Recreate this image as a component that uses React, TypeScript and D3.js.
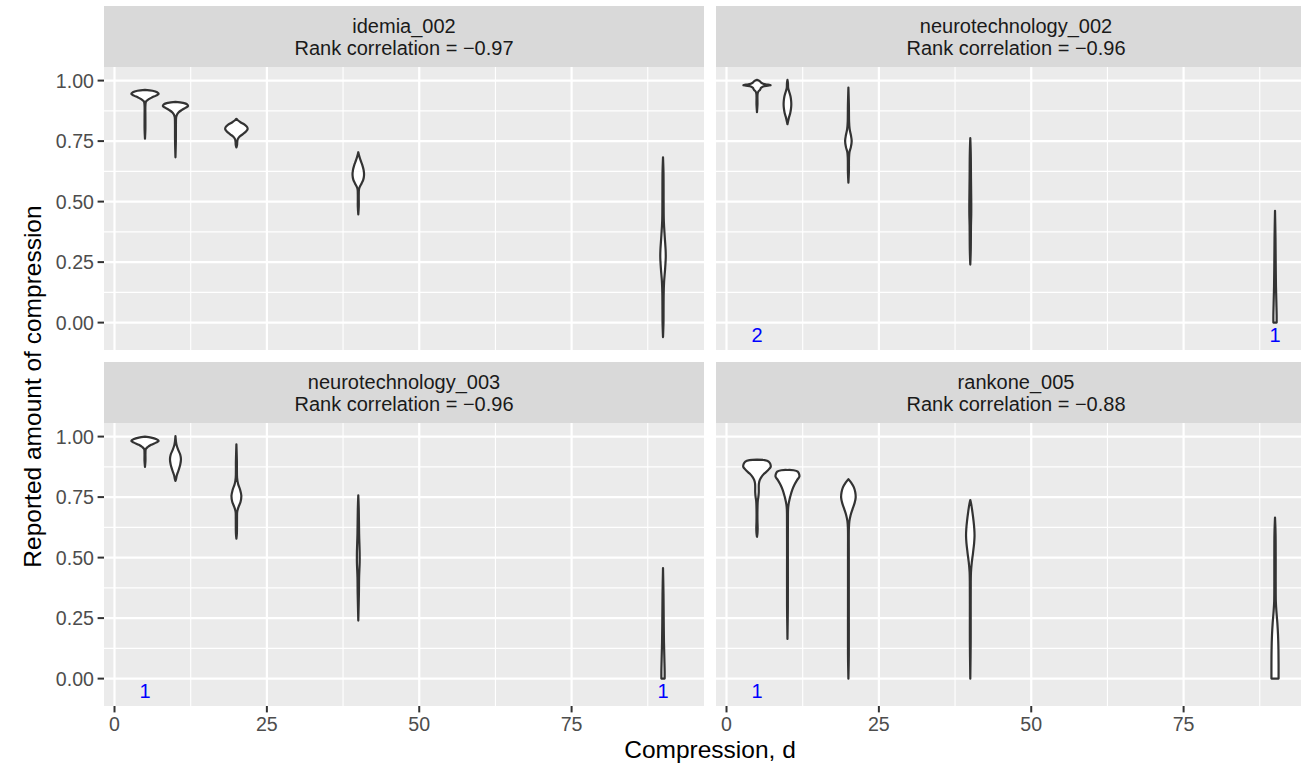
import React from 'react';
import * as d3 from 'd3';

const panelNames = ['idemia_002', 'neurotechnology_002', 'neurotechnology_003', 'rankone_005'];
const rankCorrelations = [-0.97, -0.96, -0.96, -0.88];
const compressionLevels = [5, 10, 20, 40, 90];

// violin outlines, one per compression level: [reported value, relative density], top to bottom
const idemia002: [number, number][][] = [
  [[0.962, 0], [0.958, 0.55], [0.952, 0.88], [0.945, 1.0], [0.938, 0.8], [0.93, 0.5], [0.922, 0.25], [0.914, 0.08], [0.9, 0.035], [0.85, 0.03], [0.8, 0.03], [0.76, 0]],
  [[0.912, 0], [0.908, 0.55], [0.902, 0.85], [0.895, 0.92], [0.888, 0.75], [0.878, 0.45], [0.868, 0.22], [0.858, 0.1], [0.848, 0.05], [0.82, 0.035], [0.75, 0.03], [0.683, 0]],
  [[0.842, 0], [0.836, 0.1], [0.828, 0.3], [0.818, 0.6], [0.808, 0.78], [0.8, 0.82], [0.79, 0.7], [0.778, 0.45], [0.768, 0.22], [0.758, 0.1], [0.745, 0.06], [0.735, 0.05], [0.724, 0]],
  [[0.704, 0], [0.69, 0.06], [0.67, 0.17], [0.65, 0.3], [0.63, 0.39], [0.61, 0.42], [0.59, 0.36], [0.575, 0.24], [0.56, 0.1], [0.55, 0.05], [0.52, 0.035], [0.48, 0.035], [0.447, 0]],
  [[0.683, 0], [0.62, 0.035], [0.5, 0.045], [0.42, 0.06], [0.36, 0.12], [0.3, 0.19], [0.27, 0.2], [0.22, 0.15], [0.17, 0.08], [0.12, 0.05], [0.05, 0.04], [0, 0.035], [-0.06, 0]],
];

const neurotechnology002: [number, number][][] = [
  [[1.003, 0], [0.998, 0.2], [0.992, 0.3], [0.987, 0.45], [0.983, 0.8], [0.981, 1.0], [0.979, 0.8], [0.976, 0.45], [0.97, 0.3], [0.962, 0.22], [0.955, 0.1], [0.945, 0.045], [0.9, 0.035], [0.87, 0]],
  [[1.003, 0], [0.99, 0.035], [0.97, 0.05], [0.955, 0.12], [0.935, 0.22], [0.915, 0.27], [0.9, 0.28], [0.885, 0.26], [0.865, 0.2], [0.85, 0.12], [0.835, 0.06], [0.82, 0]],
  [[0.971, 0], [0.9, 0.035], [0.83, 0.05], [0.8, 0.09], [0.775, 0.18], [0.75, 0.24], [0.725, 0.18], [0.705, 0.08], [0.68, 0.045], [0.62, 0.035], [0.578, 0]],
  [[0.762, 0], [0.7, 0.035], [0.6, 0.05], [0.5, 0.07], [0.45, 0.07], [0.4, 0.05], [0.3, 0.035], [0.24, 0]],
  [[0.462, 0], [0.35, 0.035], [0.25, 0.05], [0.15, 0.07], [0.08, 0.1], [0.03, 0.12], [0, 0.12]],
];

const neurotechnology003: [number, number][][] = [
  [[1.0, 0], [0.996, 0.45], [0.99, 0.8], [0.982, 1.0], [0.975, 0.8], [0.966, 0.45], [0.957, 0.2], [0.948, 0.06], [0.93, 0.035], [0.9, 0.035], [0.875, 0]],
  [[1.002, 0], [0.98, 0.035], [0.965, 0.08], [0.945, 0.2], [0.925, 0.35], [0.906, 0.4], [0.885, 0.35], [0.86, 0.22], [0.84, 0.1], [0.825, 0.045], [0.817, 0]],
  [[0.968, 0], [0.9, 0.035], [0.83, 0.05], [0.805, 0.12], [0.78, 0.27], [0.755, 0.36], [0.73, 0.3], [0.71, 0.16], [0.69, 0.06], [0.66, 0.045], [0.6, 0.035], [0.578, 0]],
  [[0.757, 0], [0.7, 0.035], [0.6, 0.06], [0.52, 0.1], [0.48, 0.1], [0.42, 0.06], [0.35, 0.045], [0.24, 0]],
  [[0.457, 0], [0.35, 0.035], [0.25, 0.05], [0.15, 0.07], [0.08, 0.1], [0.03, 0.12], [0, 0.12]],
];

const rankone005: [number, number][][] = [
  [[0.905, 0], [0.903, 0.55], [0.897, 0.85], [0.887, 0.97], [0.875, 1.0], [0.862, 0.82], [0.848, 0.55], [0.834, 0.33], [0.82, 0.2], [0.806, 0.14], [0.79, 0.13], [0.77, 0.13], [0.75, 0.1], [0.735, 0.06], [0.7, 0.035], [0.65, 0.035], [0.62, 0.05], [0.6, 0.035], [0.586, 0]],
  [[0.862, 0], [0.861, 0.45], [0.855, 0.75], [0.845, 0.85], [0.835, 0.87], [0.82, 0.7], [0.8, 0.5], [0.78, 0.35], [0.76, 0.24], [0.74, 0.15], [0.72, 0.08], [0.7, 0.045], [0.68, 0.035], [0.5, 0.03], [0.3, 0.03], [0.164, 0]],
  [[0.824, 0], [0.81, 0.2], [0.79, 0.4], [0.77, 0.5], [0.748, 0.53], [0.725, 0.45], [0.7, 0.3], [0.675, 0.16], [0.65, 0.07], [0.62, 0.035], [0.5, 0.03], [0.3, 0.03], [0.1, 0.03], [0, 0]],
  [[0.738, 0], [0.72, 0.07], [0.69, 0.15], [0.65, 0.24], [0.62, 0.29], [0.59, 0.31], [0.56, 0.28], [0.52, 0.2], [0.48, 0.11], [0.44, 0.05], [0.4, 0.035], [0.3, 0.03], [0.15, 0.03], [0, 0]],
  [[0.665, 0], [0.6, 0.04], [0.5, 0.05], [0.4, 0.05], [0.32, 0.06], [0.28, 0.1], [0.23, 0.17], [0.18, 0.22], [0.12, 0.25], [0.06, 0.26], [0, 0.26]],
];

const violinsByPanel = [idemia002, neurotechnology002, neurotechnology003, rankone005];

// blue count annotations
const countPanel = [1, 1, 2, 2, 3];
const countLevel = [5, 90, 5, 90, 5];
const countText = ['2', '1', '1', '1', '1'];
const countY = -0.05;

const xTicks = [0, 25, 50, 75];
const yTicks = [0, 0.25, 0.5, 0.75, 1];

const W = 1301;
const H = 767;
const left = 104;
const top = 6;
const panelW = 600;
const panelH = 283;
const stripH = 61;
const gap = 12;
const font = '"Liberation Sans", Arial, Helvetica, sans-serif';

export default function App() {
  const halfMax = (0.9 * 5) / 2;
  const xLo = d3.min(compressionLevels)! - halfMax;
  const xHi = d3.max(compressionLevels)! + halfMax;
  const xPad = (xHi - xLo) * 0.05;
  const x = d3.scaleLinear().domain([xLo - xPad, xHi + xPad]).range([0, panelW]);

  const ys = violinsByPanel.flatMap(p => p.flatMap(v => v.map(d => d[0])));
  const [yLo, yHi] = d3.extent(ys) as [number, number];
  const yPad = (yHi - yLo) * 0.05;
  const y = d3.scaleLinear().domain([yLo - yPad, yHi + yPad]).range([panelH, 0]);

  const minor = (ticks: number[], dom: number[]) => {
    const step = ticks[1] - ticks[0];
    return [ticks[0] - step / 2, ...ticks.map(t => t + step / 2)].filter(t => t >= dom[0] && t <= dom[1]);
  };
  const xMinor = minor(xTicks, x.domain());
  const yMinor = minor(yTicks, y.domain());

  const fmt = d3.format('.2f');

  return (
    <svg width={W} height={H} style={{ position: 'absolute', left: 0, top: 0, background: '#fff' }} fontFamily={font}>
      {panelNames.map((name, pi) => {
        const col = pi % 2;
        const row = Math.floor(pi / 2);
        const px = left + col * (panelW + gap);
        const sy = top + row * (stripH + panelH + gap);
        const py = sy + stripH;
        const violins = violinsByPanel[pi];
        return (
          <g key={name}>
            <rect x={px} y={sy} width={panelW} height={stripH} fill="#D9D9D9" />
            <text x={px + panelW / 2} y={sy + 27} textAnchor="middle" fontSize={20} fill="#1A1A1A">{name}</text>
            <text x={px + panelW / 2} y={sy + 49} textAnchor="middle" fontSize={20} fill="#1A1A1A">
              {`Rank correlation = ${fmt(rankCorrelations[pi])}`}
            </text>
            <g transform={`translate(${px},${py})`}>
              <rect width={panelW} height={panelH} fill="#EBEBEB" />
              {xMinor.map(t => <line key={'xm' + t} x1={x(t)} x2={x(t)} y1={0} y2={panelH} stroke="#fff" strokeWidth={1.1} />)}
              {yMinor.map(t => <line key={'ym' + t} x1={0} x2={panelW} y1={y(t)} y2={y(t)} stroke="#fff" strokeWidth={1.1} />)}
              {xTicks.map(t => <line key={'xM' + t} x1={x(t)} x2={x(t)} y1={0} y2={panelH} stroke="#fff" strokeWidth={2.2} />)}
              {yTicks.map(t => <line key={'yM' + t} x1={0} x2={panelW} y1={y(t)} y2={y(t)} stroke="#fff" strokeWidth={2.2} />)}
              {violins.map((prof, vi) => {
                const cx = compressionLevels[vi];
                const area = d3.area<[number, number]>()
                  .y(d => y(d[0]))
                  .x0(d => x(cx - d[1] * halfMax))
                  .x1(d => x(cx + d[1] * halfMax))
                  .curve(d3.curveCatmullRom.alpha(0.5));
                return (
                  <path key={vi} d={area(prof) || ''} fill="#fff" stroke="#333333" strokeWidth={2.2} strokeLinejoin="round" />
                );
              })}
              {countText.map((lbl, i) => countPanel[i] === pi ? (
                <text key={'c' + i} x={x(countLevel[i])} y={y(countY)} dy="0.35em" textAnchor="middle" fontSize={20} fill="#0000FF">{lbl}</text>
              ) : null)}
              {col === 0 && yTicks.map(t => (
                <g key={'yt' + t}>
                  <line x1={-6.4} x2={0} y1={y(t)} y2={y(t)} stroke="#333333" strokeWidth={2} />
                  <text x={-10} y={y(t)} dy="0.36em" textAnchor="end" fontSize={19.6} fill="#4D4D4D">{fmt(t)}</text>
                </g>
              ))}
              {row === 1 && xTicks.map(t => (
                <g key={'xt' + t}>
                  <line x1={x(t)} x2={x(t)} y1={panelH} y2={panelH + 6.4} stroke="#333333" strokeWidth={2} />
                  <text x={x(t)} y={panelH + 25} textAnchor="middle" fontSize={19.6} fill="#4D4D4D">{t}</text>
                </g>
              ))}
            </g>
          </g>
        );
      })}
      <text x={left + panelW + gap / 2} y={758} textAnchor="middle" fontSize={24.5} fill="#000">Compression, d</text>
      <text transform={`translate(41,${top + stripH + (2 * panelH + stripH + gap) / 2}) rotate(-90)`} textAnchor="middle" fontSize={24.5} fill="#000">
        Reported amount of compression
      </text>
    </svg>
  );
}
